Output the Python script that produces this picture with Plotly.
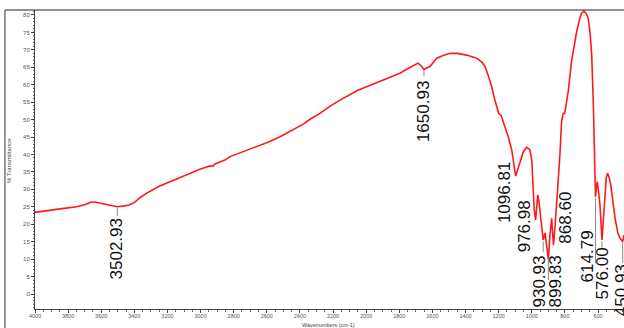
import plotly.graph_objects as go

# ---- spectrum data ----
wavenumber = [4000, 3950, 3900, 3850, 3800, 3750, 3700, 3660, 3640, 3610, 3580, 3550, 3503, 3470,
              3430, 3400, 3366, 3330, 3306, 3250, 3185, 3100, 3004, 2950, 2933, 2925, 2913, 2880,
              2853, 2822, 2750, 2682, 2600, 2520, 2450, 2380, 2339, 2279, 2220, 2158, 2050, 1980,
              1917, 1850, 1796, 1750, 1705, 1687, 1665, 1651, 1635, 1615, 1574, 1540, 1494, 1450,
              1393, 1333, 1300, 1282, 1262, 1242, 1225, 1212, 1200, 1185, 1162, 1142, 1121, 1111,
              1097, 1085, 1071, 1051, 1031, 1011, 1000, 991, 985, 977, 970, 964, 958, 950, 940,
              931, 925, 920, 910, 900, 890, 880, 875, 869, 860, 850, 840, 830, 820, 810, 801, 790,
              780, 760, 740, 729, 710, 699, 685, 672, 659, 648, 638, 628, 618, 615, 610, 604, 596,
              588, 576, 567, 558, 550, 542, 533, 523, 510, 497, 480, 467, 451, 443]
transmittance = [23.4, 23.8, 24.1, 24.4, 24.7, 25.0, 25.6, 26.4, 26.4, 26.1, 25.8, 25.5, 25.0, 25.2,
                 25.5, 26.2, 27.6, 28.8, 29.5, 30.9, 32.2, 34.0, 35.8, 36.6, 36.8, 36.6, 37.3, 37.9,
                 38.4, 39.4, 40.7, 41.9, 43.4, 45.1, 46.8, 48.7, 50.1, 51.8, 53.8, 55.6, 58.4, 59.8,
                 60.9, 62.3, 63.3, 64.6, 65.9, 66.2, 65.3, 64.4, 64.8, 65.2, 67.6, 68.3, 69.0, 69.0,
                 68.5, 67.6, 66.4, 65.2, 62.5, 59.4, 56.0, 53.5, 51.8, 51.2, 48.0, 45.1, 41.3, 37.9,
                 33.8, 35.6, 37.5, 40.8, 42.1, 41.3, 38.4, 30.8, 24.1, 21.2, 25.0, 28.4, 27.0, 24.1, 19.5,
                 15.5, 16.5, 17.5, 14.0, 10.0, 17.0, 21.7, 18.0, 14.0, 19.0, 25.5, 33.0, 39.9, 49.4, 51.8, 51.8, 55.0,
                 58.0, 66.6, 72.5, 75.2, 79.0, 80.5, 81.1, 80.5, 79.0, 75.0, 68.5, 54.2, 33.2, 27.9, 30.5, 32.2, 29.0,
                 25.5, 15.5, 22.0, 29.3, 33.5, 34.6, 33.5, 31.3, 26.0, 21.7, 17.5, 16.0, 15.0, 16.9]

# ---- peak labels ----
peak_labels = ["3502.93", "1650.93", "1096.81", "976.98", "930.93", "899.83",
               "868.60", "614.79", "576.00", "450.93"]
peak_wn = [3502.93, 1650.93, 1096.81, 976.98, 930.93, 899.83, 868.60, 614.79, 576.00, 450.93]

# ---- axis ticks ----
x_tick_vals = list(range(4000, 400, -200))
y_tick_vals = list(range(0, 85, 5))

# ---- label placement (style/positions) ----
label_center_wn = [3508, 1650, 1168, 1047, 956, 854, 793, 666, 576, 461]
label_center_t = [12.9, 52.2, 29.2, 19.4, 3.6, 3.6, 21.9, 10.8, 5.9, 1.1]
leader_top = [24.7, 64.2, None, None, 15.0, 10.2, None, 27.6, 15.2, 14.8]
leader_bottom = [22.3, 62.4, None, None, 12.0, 4.0, None, 8.9, 13.2, 9.0]

fig = go.Figure()
fig.add_trace(go.Scatter(x=wavenumber, y=transmittance, mode="lines",
                         line=dict(color="#ff1a1a", width=1.6), hoverinfo="skip",
                         showlegend=False))

shapes = []
for wn, t0, t1 in zip(peak_wn, leader_top, leader_bottom):
    if t0 is None:
        continue
    shapes.append(dict(type="line", xref="x", yref="y", x0=wn, x1=wn, y0=t0, y1=t1,
                       line=dict(color="#8a8a8a", width=1)))

# outer frame (left and top)
shapes.append(dict(type="line", xref="paper", yref="paper", x0=-0.051, x1=-0.051, y0=-0.07, y1=1.0,
                   line=dict(color="#555555", width=1.2)))
shapes.append(dict(type="line", xref="paper", yref="paper", x0=-0.051, x1=1.0, y0=1.0, y1=1.0,
                   line=dict(color="#222222", width=1.2)))

annotations = []
for txt, xc, yc in zip(peak_labels, label_center_wn, label_center_t):
    annotations.append(dict(x=xc, y=yc, xref="x", yref="y", text=txt, showarrow=False,
                            textangle=-90, xanchor="center", yanchor="middle",
                            font=dict(family="Liberation Sans, Arial", size=17, color="#111111")))

annotations.append(dict(x=0.498, y=-0.053, xref="paper", yref="paper", text="Wavenumbers (cm-1)",
                        showarrow=False, xanchor="center", yanchor="middle",
                        font=dict(family="Liberation Sans Narrow, Liberation Sans", size=5.5, color="#444444")))
annotations.append(dict(x=-0.043, y=0.497, xref="paper", yref="paper", text="% Transmittance",
                        showarrow=False, textangle=-90, xanchor="center", yanchor="middle",
                        font=dict(family="Liberation Sans Narrow, Liberation Sans", size=6, color="#444444")))

fig.update_layout(
    width=624, height=328,
    margin=dict(l=35, r=0, t=10, b=19),
    paper_bgcolor="white", plot_bgcolor="white",
    shapes=shapes, annotations=annotations,
    xaxis=dict(range=[4000, 443], tickmode="array", tickvals=x_tick_vals,
               ticktext=[str(v) for v in x_tick_vals],
               showgrid=False, zeroline=False, showline=True, linecolor="#444444", linewidth=1,
               ticks="outside", ticklen=3, tickcolor="#444444", ticklabelstandoff=-2,
               minor=dict(dtick=50, ticks="outside", ticklen=2, tickcolor="#666666"),
               tickfont=dict(family="Liberation Sans Narrow, Liberation Sans", size=5.5, color="#555555")),
    yaxis=dict(range=[-4.30, 81.43], tickmode="array", tickvals=y_tick_vals,
               ticktext=[str(v) for v in y_tick_vals],
               showgrid=False, zeroline=False, showline=True, linecolor="#444444", linewidth=1,
               ticks="outside", ticklen=3, tickcolor="#444444",
               minor=dict(dtick=1, ticks="outside", ticklen=1.5, tickcolor="#666666"),
               tickfont=dict(family="Liberation Sans Narrow, Liberation Sans", size=6, color="#555555")),
)

fig.write_html("out.html", config={"displayModeBar": False},
               post_script="document.body.style.margin='0';document.body.style.overflow='hidden';")
